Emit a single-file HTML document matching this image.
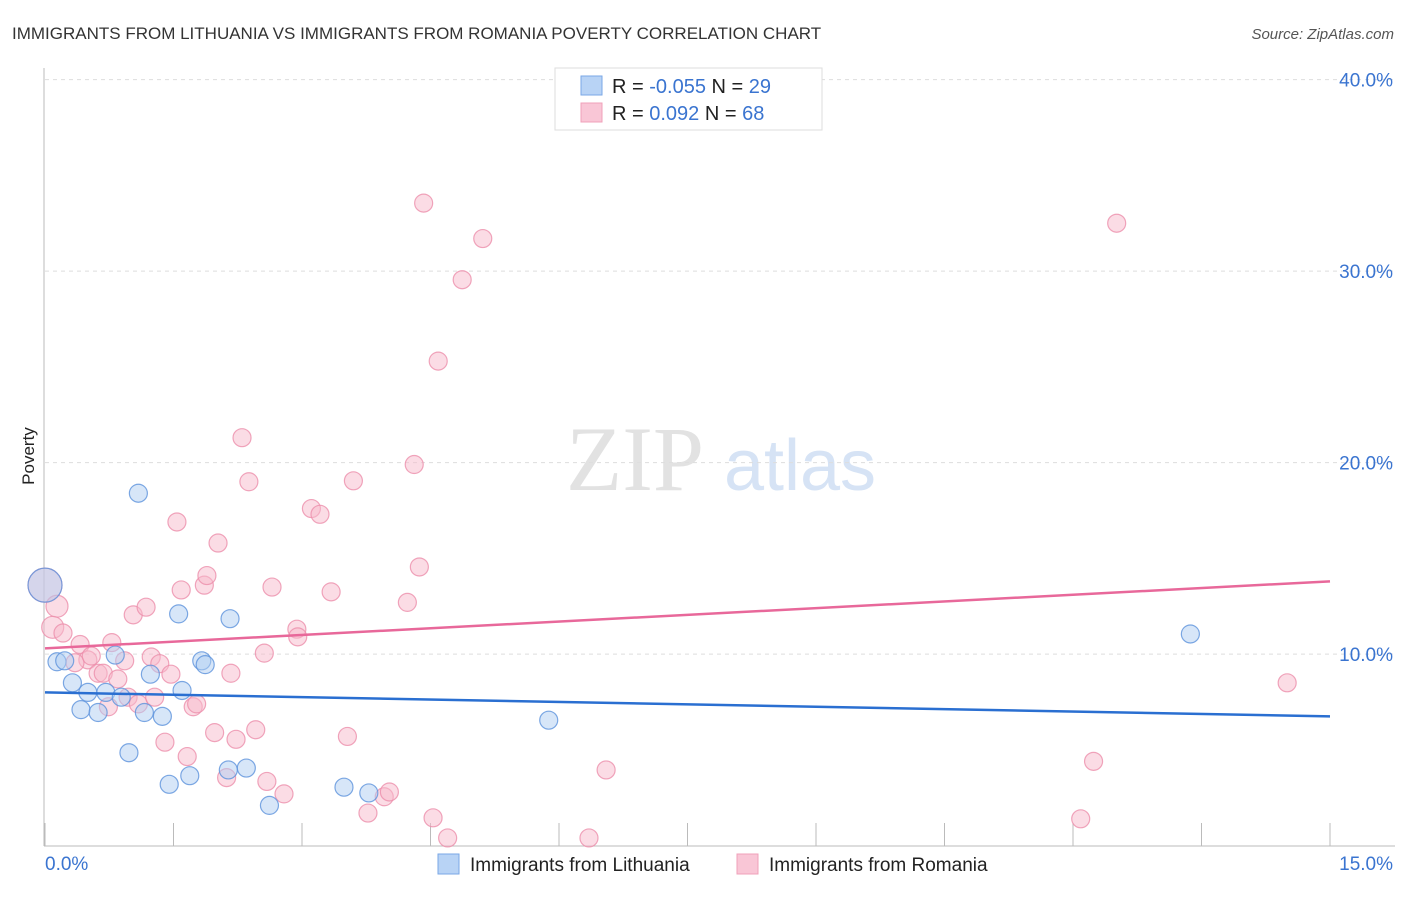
<!DOCTYPE html>
<html><head><meta charset="utf-8"><style>
body{margin:0;background:#fff;font-family:"Liberation Sans",sans-serif}
</style></head><body>
<svg id="c" width="1406" height="892" xmlns="http://www.w3.org/2000/svg" style="font-family:'Liberation Sans',sans-serif">
<text x="12" y="39" font-size="17" fill="#333">IMMIGRANTS FROM LITHUANIA VS IMMIGRANTS FROM ROMANIA POVERTY CORRELATION CHART</text>
<text x="1394" y="39" font-size="15" fill="#555" font-style="italic" text-anchor="end">Source: ZipAtlas.com</text>
<text x="34" y="456" font-size="17" fill="#222" text-anchor="middle" transform="rotate(-90 34 456)">Poverty</text>
<g><text x="635" y="490" font-size="92" fill="#e2e2e2" font-family="Liberation Serif,serif" text-anchor="middle">ZIP</text><text x="800" y="490" font-size="72" fill="#d6e3f5" text-anchor="middle">atlas</text></g>
<g id="grid"></g><g id="axes"></g><g id="pts"></g><g id="trend"></g>
<g>
<rect x="555" y="68" width="267" height="62" fill="#fff" stroke="#ddd"/>
<rect x="581" y="76" width="21" height="19" fill="#b8d3f5" stroke="#7aa7e6"/>
<rect x="581" y="103" width="21" height="19" fill="#f9c6d6" stroke="#f0a0b9"/>
<text x="612" y="93" font-size="20" fill="#222">R = <tspan fill="#3a74d0">-0.055</tspan>   N = <tspan fill="#3a74d0">29</tspan></text>
<text x="612" y="120" font-size="20" fill="#222">R =   <tspan fill="#3a74d0">0.092</tspan>   N = <tspan fill="#3a74d0">68</tspan></text>
</g>
<g>
<rect x="438" y="854" width="21" height="20" fill="#b8d3f5" stroke="#7aa7e6"/>
<text x="470" y="871" font-size="19" fill="#222">Immigrants from Lithuania</text>
<rect x="737" y="854" width="21" height="20" fill="#f9c6d6" stroke="#f0a0b9"/>
<text x="769" y="871" font-size="19" fill="#222">Immigrants from Romania</text>
</g>
</svg>
<script>
const yTicks=[10,20,30,40];
const yTickLabels=["10.0%","20.0%","30.0%","40.0%"];
const xTickLabels=["0.0%","15.0%"];
const blueX=[0,0.14,0.23,0.32,0.42,0.50,0.62,0.71,0.82,0.89,0.98,1.09,1.16,1.23,1.37,1.45,1.56,1.60,1.69,1.83,1.87,2.14,2.16,2.35,2.62,3.49,3.78,5.88,13.37];
const blueY=[13.6,9.6,9.65,8.5,7.1,8.0,6.95,8.0,9.95,7.75,4.85,18.4,6.95,8.95,6.75,3.2,12.1,8.1,3.65,9.65,9.45,3.95,11.85,4.05,2.1,3.05,2.75,6.55,11.05];
const pinkX=[0,0.14,0.09,0.21,0.41,0.50,0.35,0.54,0.62,0.68,0.74,0.85,0.78,0.93,0.97,1.03,1.09,1.18,1.24,1.28,1.34,1.40,1.47,1.54,1.59,1.66,1.73,1.77,1.86,1.89,2.02,1.98,2.12,2.17,2.23,2.30,2.38,2.46,2.56,2.59,2.65,2.79,2.94,2.95,3.11,3.21,3.34,3.53,3.60,3.77,3.96,4.02,4.23,4.37,4.31,4.42,4.53,4.59,4.70,4.87,5.11,6.35,6.55,12.09,12.24,12.51,14.50];
const pinkY=[13.6,12.5,11.4,11.1,10.5,9.7,9.55,9.9,9.0,9.0,7.25,8.7,10.6,9.65,7.75,12.05,7.4,12.45,9.85,7.75,9.5,5.4,8.95,16.9,13.35,4.65,7.25,7.4,13.6,14.1,15.8,5.9,3.55,9.0,5.55,21.3,19.0,6.05,10.05,3.35,13.5,2.7,11.3,10.9,17.6,17.3,13.25,5.7,19.05,1.7,2.55,2.8,12.7,14.55,19.9,33.55,1.45,25.3,0.4,29.55,31.7,0.4,3.95,1.4,4.4,32.5,8.5];
const blueTrend=[8.0,6.75];
const pinkTrend=[10.3,13.8];
const NS="http://www.w3.org/2000/svg";
const X=v=>45+v/15*1285, Y=v=>845.6-v*19.15;
function mk(t,a,p){const e=document.createElementNS(NS,t);for(const k in a)e.setAttribute(k,a[k]);p.appendChild(e);return e;}
const grid=document.getElementById('grid'),axes=document.getElementById('axes'),pts=document.getElementById('pts'),tr=document.getElementById('trend');
yTicks.forEach((t,i)=>{const l=mk('line',{x1:45,x2:1395,y1:Y(t),y2:Y(t),stroke:'#ddd','stroke-dasharray':'4 4'},grid);

const tx=mk('text',{x:1393,y:Y(t)+7,'font-size':19,fill:'#3a74d0','text-anchor':'end'},grid);tx.textContent=yTickLabels[i];
});
let a=mk('line',{x1:44,x2:44,y1:68,y2:846,stroke:'#bbb'},axes);
a=mk('line',{x1:44,x2:1395,y1:846,y2:846,stroke:'#bbb'},axes);
for(let i=0;i<=10;i++){const t=mk('line',{x1:X(i*1.5),x2:X(i*1.5),y1:823,y2:846,stroke:'#bbb'},axes);}
[[0,'start',45],[15,'end',1393]].forEach((d,i)=>{const t=mk('text',{x:d[2],y:870,'font-size':19,fill:'#3a74d0','text-anchor':d[1]},axes);t.textContent=xTickLabels[i];});
function dots(xs,ys,fill,stroke,name){xs.forEach((x,i)=>{const r=(i===0)?17:((name==='pink-point'&&(i===1||i===2))?11:9);
const c=mk('circle',{cx:X(x),cy:Y(ys[i]),r:r,fill:fill,'fill-opacity':0.5,stroke:stroke,'stroke-opacity':0.8,'stroke-width':1.2},pts);
});}
dots(pinkX,pinkY,'#f7b9cc','#ec8eab','pink-point');
dots(blueX,blueY,'#b0cdf2','#5d92dc','blue-point');
let l=mk('line',{x1:X(0),x2:X(15),y1:Y(blueTrend[0]),y2:Y(blueTrend[1]),stroke:'#2a6fd1','stroke-width':2.5},tr);
l=mk('line',{x1:X(0),x2:X(15),y1:Y(pinkTrend[0]),y2:Y(pinkTrend[1]),stroke:'#e8689a','stroke-width':2.5},tr);
</script>
</body></html>
